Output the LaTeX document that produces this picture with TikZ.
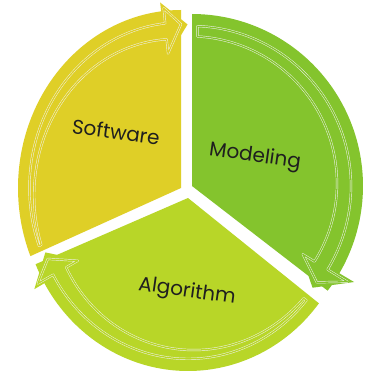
\documentclass[tikz,border=0pt]{standalone}
\usepackage{fontspec}
\setmainfont{Poppins}
\definecolor{swY}{HTML}{DFCF27}
\definecolor{mdG}{HTML}{84C42D}
\definecolor{alG}{HTML}{B8D628}
\tikzset{
  outl/.style={draw=white!90!gray, line width=0.45pt, double=#1, double distance=1.3pt, line join=round},
  lbl/.style={font=\fontsize{20}{22}\selectfont, text=black!88, inner sep=0pt}
}
% #1,#2 apex; #3 tail angle; #4 head angle; #5,#6 radii; #7 colour; #8 inner factor at tail; #9 outer wing factor
\newcommand\cycseg[9]{%
  \pgfmathsetmacro\segTz{#3+2}%
  \pgfmathsetmacro\segHb{#4-6}%
  \pgfmathsetmacro\segFb{#4-7}%
  \pgfmathsetmacro\segTp{#4}%
  \pgfmathsetmacro\segFt{#4+2.5}%
  \pgfmathsetmacro\segWo{#9-0.035}%
  \fill[#7] (#1,#2) -- plot[domain=#3:#4,samples=80,variable=\t] ({#1+#5*cos(\t)},{#2+#6*sin(\t)}) -- cycle;
  \fill[#7] ({#1+0.73*#5*cos(\segFb)},{#2+0.73*#6*sin(\segFb)}) -- ({#1+#9*#5*cos(\segFb)},{#2+#9*#6*sin(\segFb)}) -- ({#1+0.92*#5*cos(\segFt)},{#2+0.92*#6*sin(\segFt)}) -- cycle;
  \draw[outl=#7] plot[domain=\segTz:\segHb,samples=80,variable=\t] ({#1+0.93*#5*cos(\t)},{#2+0.93*#6*sin(\t)}) -- ({#1+\segWo*#5*cos(\segHb)},{#2+\segWo*#6*sin(\segHb)}) -- ({#1+0.92*#5*cos(\segTp)},{#2+0.92*#6*sin(\segTp)}) -- ({#1+0.76*#5*cos(\segHb)},{#2+0.76*#6*sin(\segHb)}) -- plot[domain=0:1,samples=80,variable=\s] ({#1+(0.84+(#8-0.84)*\s)*#5*cos(\segHb+(\segTz-\segHb)*\s)},{#2+(0.84+(#8-0.84)*\s)*#6*sin(\segHb+(\segTz-\segHb)*\s)}) -- cycle;
}
\begin{document}
\begin{tikzpicture}[x=1pt,y=-1pt]
\useasboundingbox (0,0) rectangle (365,374);
\fill[white] (0,0) rectangle (365,374);
\cycseg{181}{188}{157.5}{270}{163}{178}{swY}{0.915}{1.05}
\cycseg{192}{186}{270}{397.5}{171}{172}{mdG}{0.87}{1.10}
\cycseg{188}{198}{37.5}{157.5}{165}{173}{alG}{0.91}{1.07}
\node[lbl, rotate=-8] (sw) at (116,132) {Software};
\node[lbl, rotate=-8] (md) at (255,157) {Modeling};
\node[lbl, rotate=-8] (al) at (187,292) {Algorithm};
\end{tikzpicture}
\end{document}
